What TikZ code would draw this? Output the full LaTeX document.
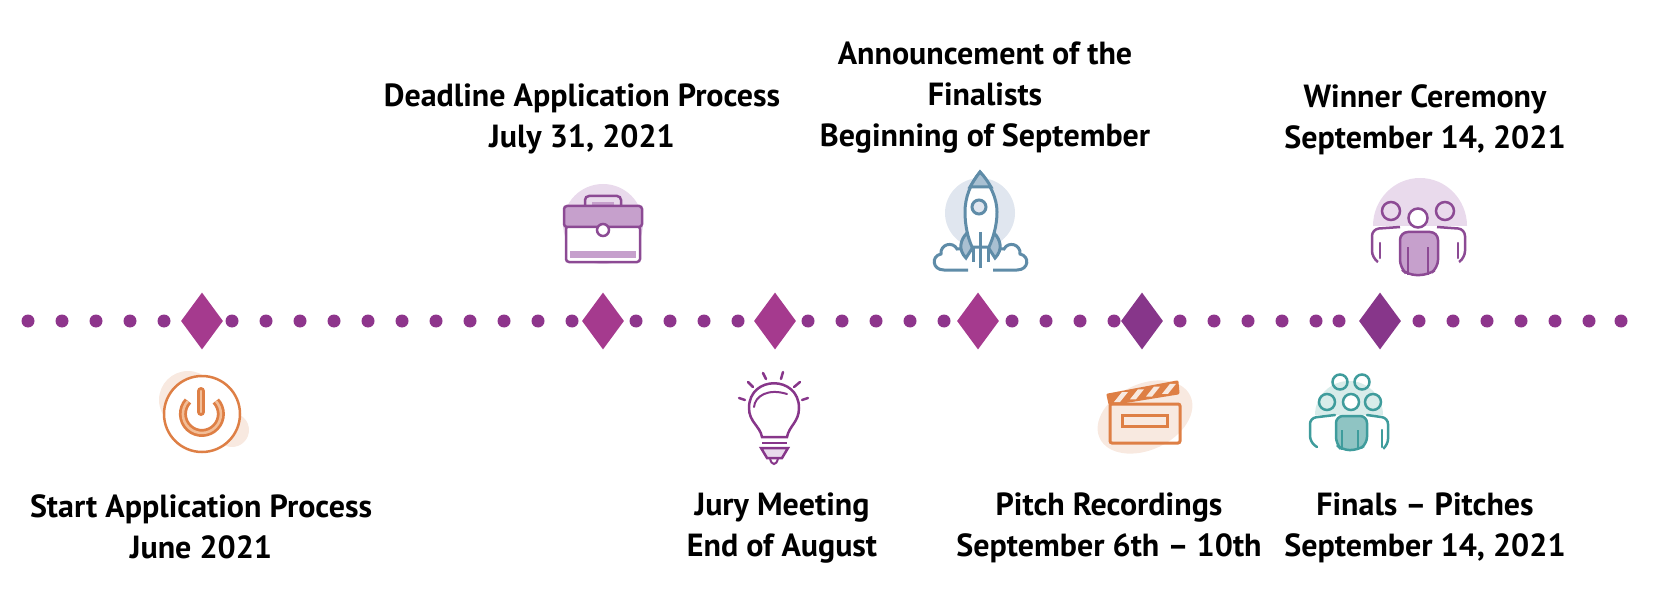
\documentclass[tikz,border=0pt]{standalone}
\usepackage{fontspec}
\setmainfont{PT Sans}
\usetikzlibrary{shapes.geometric}
\definecolor{plumA}{HTML}{A53A8E}
\definecolor{plumB}{HTML}{87368A}
\definecolor{plumDot}{HTML}{8E358C}
\definecolor{plumLine}{HTML}{8C4A94}
\definecolor{plumPale}{HTML}{E9DAEC}
\definecolor{plumFill}{HTML}{C6A0CC}
\definecolor{orangeLine}{HTML}{DE7F45}
\definecolor{orangeCore}{HTML}{F2BE98}
\definecolor{orangePale}{HTML}{F8E9E0}
\definecolor{blueLine}{HTML}{5F8CA8}
\definecolor{bluePale}{HTML}{E0E6EF}
\definecolor{blueFill}{HTML}{A9C0D2}
\definecolor{tealLine}{HTML}{3F9C9C}
\definecolor{tealPale}{HTML}{D8ECEA}
\definecolor{tealFill}{HTML}{8FC4C3}
\tikzset{
	mydot/.style={circle, fill=plumDot, minimum width=13pt, inner sep=0pt},
	mydiamond/.style={diamond, aspect=0.75, minimum width=42pt, minimum height=57pt, inner sep=0pt},
	mylabel/.style={align=center, text=black, font=\fontsize{32}{41}\selectfont\bfseries},
}
\begin{document}
\begin{tikzpicture}[x=1pt,y=-1pt]
\useasboundingbox (0,0) rectangle (1657,596);
% dots of the time line
\foreach \x in {28,62,96,130,164,232,266,300,334,368,402,436,470,504,538,572,636,670,704,738,808,842,876,910,944,1012,1046,1080,1114,1180,1214,1248,1282,1316,1339,1419,1453,1487,1521,1555,1589,1621}
	\node[mydot] (dot\x) at (\x,321) {};
% diamonds
\node[mydiamond, fill=plumA] (start) at (202,321) {};
\node[mydiamond, fill=plumA] (deadline) at (603,321) {};
\node[mydiamond, fill=plumA] (jury) at (775,321) {};
\node[mydiamond, fill=plumA] (announce) at (978,321) {};
\node[mydiamond, fill=plumB] (pitch) at (1142,321) {};
\node[mydiamond, fill=plumB] (finals) at (1380,321) {};
% labels
\node[mylabel] (startlabel) at (201,527) {Start Application Process\\June 2021};
\node[mylabel] (deadlinelabel) at (582,119) {Deadline Application Process\\July 31, 2021};
\node[mylabel] (announcelabel) at (985,98) {Announcement of the\\Finalists\\Beginning of September};
\node[mylabel] (winnerlabel) at (1425,120) {Winner Ceremony\\September 14, 2021};
\node[mylabel] (jurylabel) at (782,528) {Jury Meeting\\End of August};
\node[mylabel] (pitchlabel) at (1109,528) {Pitch Recordings\\September 6th – 10th};
\node[mylabel] (finalslabel) at (1425,528) {Finals – Pitches\\September 14, 2021};
% power icon
\fill[orangePale] (188,400) circle (29);
\fill[orangePale] (232,430) circle (17);
\draw[orangeLine, fill=white, line width=2.5pt] (202,414) circle (38);
\draw[orangeLine, line width=8pt] (188,401) arc (223:-43:19);
\draw[orangeCore, line width=2.5pt] (188,401) arc (223:-43:19);
\draw[white, line width=13pt] (201,386) -- (201,398);
\draw[orangeLine, line width=8pt, line cap=round] (201,391) -- (201,412);
\draw[orangeCore, line width=2.5pt, line cap=round] (201,391) -- (201,412);
% briefcase icon
\fill[plumPale] (603,224) circle (40);
\fill[white] (566,226) rectangle (640,262);
\draw[plumLine, line width=2.5pt, rounded corners=3pt] (566,226) rectangle (640,262);
\fill[plumFill] (570,251) rectangle (636,258);
\draw[plumLine, line width=2.5pt, rounded corners=4pt] (585,206) -- (585,196) -- (621,196) -- (621,206);
\fill[plumFill] (592,202) rectangle (614,206);
\draw[plumLine, fill=plumFill, line width=2.5pt, rounded corners=3pt] (564,206) rectangle (642,227);
\draw[plumLine, fill=white, line width=2.5pt] (603,230) circle (6);
% rocket icon
\fill[bluePale] (980,213) circle (35);
\draw[blueLine, line width=3pt, fill=white] (968,270) -- (944,270) .. controls (932,270) and (931,256) .. (941,254) .. controls (940,244) and (953,241) .. (957,249) .. controls (963,247) and (967,252) .. (966,258);
\draw[blueLine, line width=3pt, fill=white] (993,270) -- (1017,270) .. controls (1029,270) and (1030,256) .. (1020,254) .. controls (1021,244) and (1008,241) .. (1004,249) .. controls (998,247) and (994,252) .. (995,258);
\draw[blueLine, line width=3pt, fill=blueFill] (967,233) .. controls (960,240) and (958,250) .. (966,258) -- (973,247) -- cycle;
\draw[blueLine, line width=3pt, fill=blueFill] (994,233) .. controls (1001,240) and (1003,250) .. (995,258) -- (988,247) -- cycle;
\draw[blueLine, line width=3pt, fill=white] (980,172) .. controls (970,184) and (965,198) .. (965,212) .. controls (965,226) and (968,238) .. (972,247) -- (989,247) .. controls (993,238) and (997,226) .. (997,212) .. controls (997,198) and (990,184) .. (980,172) -- cycle;
\draw[blueLine, line width=3pt, fill=blueFill] (980,172) .. controls (976,177) and (973,182) .. (970,187) -- (991,187) .. controls (988,182) and (985,177) .. (980,172) -- cycle;
\draw[blueLine, line width=3pt, fill=bluePale] (979,207) circle (7);
\draw[blueLine, line width=3pt] (980,232) -- (980,268) (973,247) -- (973,262) (988,247) -- (988,262);
% winner icon
\fill[plumPale] (1373,226) arc (180:360:47 and 48) -- cycle;
\draw[plumLine, line width=2.5pt] (1391,211) circle (9);
\draw[plumLine, line width=2.5pt] (1445,211) circle (9);
\draw[plumLine, line width=2.5pt, rounded corners=7pt] (1378,262) -- (1372,258) -- (1372,229) -- (1400,227);
\draw[plumLine, line width=2.5pt, line cap=round] (1380,243) -- (1380,258);
\draw[plumLine, line width=2.5pt, rounded corners=7pt] (1459,262) -- (1465,258) -- (1465,229) -- (1437,227);
\draw[plumLine, line width=2.5pt, line cap=round] (1458,243) -- (1458,258);
\draw[plumLine, line width=2.5pt, fill=plumFill, rounded corners=8pt] (1408,275) -- (1400,268) -- (1400,232) -- (1438,232) -- (1438,268) -- (1428,275) -- cycle;
\draw[plumLine, line width=2.5pt, fill=white] (1418,218) circle (9.5);
\draw[plumLine, line width=2.5pt] (1408,247) -- (1408,275) (1428,247) -- (1428,275);
% bulb icon
\draw[plumB, line width=2.5pt, line cap=round] (739,398) -- (745,400) (748,382) -- (753,387) (763,373) -- (766,379) (783,372) -- (781,379) (800,382) -- (794,387) (808,398) -- (802,400);
\draw[plumB, line width=2.5pt] (762,437) .. controls (760,426) and (749,422) .. (749,408) .. controls (749,375) and (799,375) .. (799,408) .. controls (799,422) and (789,426) .. (787,437) -- cycle;
\draw[plumB, line width=2pt, line cap=round] (754,407) .. controls (755,396) and (768,388) .. (787,394);
\draw[plumB, line width=2.5pt] (762,443) -- (787,443);
\draw[plumB, line width=2.5pt, fill=plumPale] (761,448) -- (788,448) -- (782,458) -- (767,458) -- cycle;
\draw[plumB, line width=2pt] (770,458) .. controls (771,466) and (777,466) .. (778,458);
% clapper icon
\fill[orangePale, rotate around={25:(1145,417)}] (1145,417) ellipse (50 and 33);
\draw[orangeLine, line width=3pt, rounded corners=2pt] (1110,404) rectangle (1180,443);
\draw[orangeLine, line width=3pt] (1122,415) rectangle (1167,426);
\draw[orangeLine, line width=3pt, fill=orangeLine, line join=round] (1108,395) -- (1177,382) -- (1178,393) -- (1110,404) -- cycle;
\foreach \s in {0,16,32,48}
	\fill[orangePale] (1114+\s,402-\s*0.17) -- (1120+\s,402-\s*0.17) -- (1128+\s,392-\s*0.17) -- (1122+\s,392-\s*0.17) -- cycle;
% finals icon
\fill[tealPale] (1315,415) arc (180:360:34 and 34) -- cycle;
\draw[tealLine, line width=2.5pt] (1340,382) circle (7.5);
\draw[tealLine, line width=2.5pt] (1362,382) circle (7.5);
\draw[tealLine, line width=2.5pt] (1327,402) circle (8);
\draw[tealLine, line width=2.5pt] (1373,402) circle (8);
\draw[tealLine, line width=2.5pt, rounded corners=6pt, line cap=round] (1317,447) -- (1310,442) -- (1310,418) -- (1335,415);
\draw[tealLine, line width=2.5pt, rounded corners=6pt, line cap=round] (1384,448) -- (1388,445) -- (1388,418) -- (1367,415);
\draw[tealLine, line width=2.5pt, line cap=round] (1382,430) -- (1382,447);
\draw[tealLine, line width=2.5pt, fill=tealFill, rounded corners=7pt] (1342,450) -- (1336,444) -- (1336,416) -- (1367,416) -- (1367,444) -- (1358,450) -- cycle;
\draw[tealLine, line width=2.5pt, fill=white] (1351,402) circle (8);
\draw[tealLine, line width=2.5pt] (1342,430) -- (1342,450) (1358,430) -- (1358,450);
\end{tikzpicture}
\end{document}
